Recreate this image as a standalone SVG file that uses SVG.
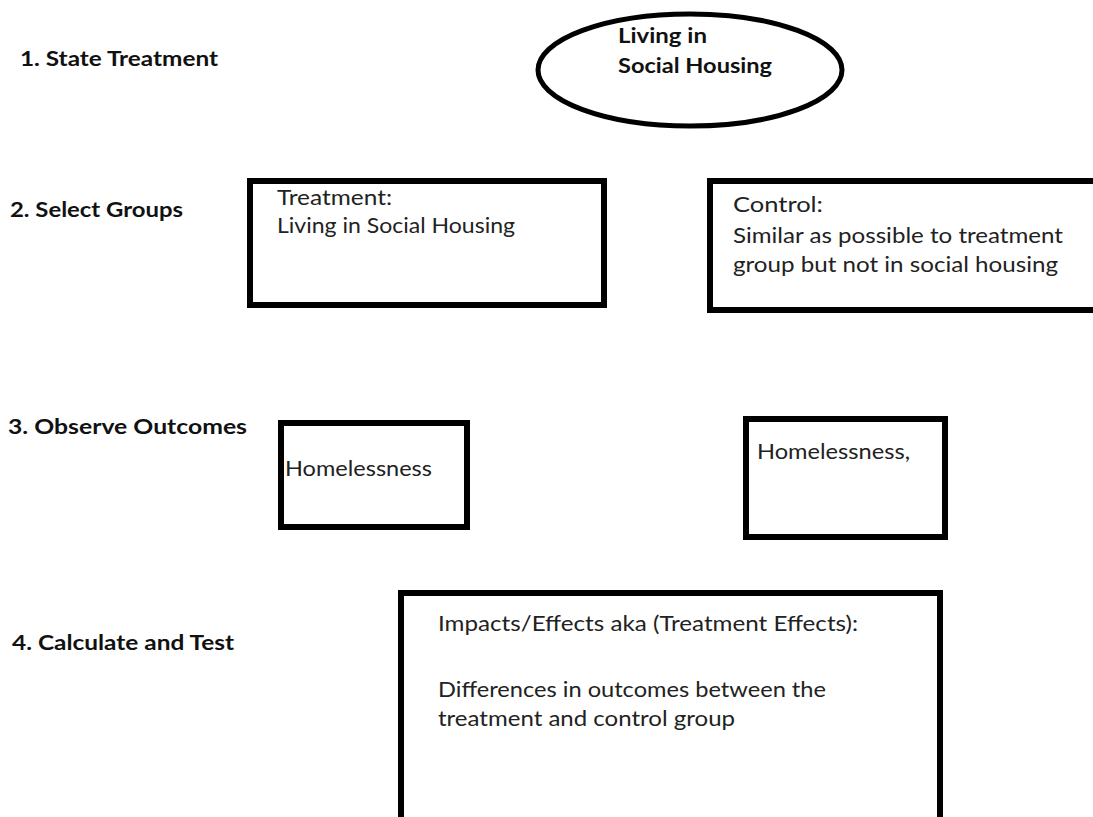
<svg xmlns="http://www.w3.org/2000/svg" width="1093" height="817" viewBox="0 0 1093 817">
<style>
.lbl{font-family:Lato,"Liberation Sans",sans-serif;font-weight:bold;font-size:20px;fill:#111}
.t{font-family:Lato,"Liberation Sans",sans-serif;font-size:21px;fill:#222}
.tb{font-family:Lato,"Liberation Sans",sans-serif;font-weight:bold;font-size:21px;fill:#111}
.box{fill:#fff;stroke:#000;stroke-width:6}
</style>
<rect width="1093" height="817" fill="#fff"/>
<g id="labels">
<text class="lbl" x="20" y="66" textLength="198" lengthAdjust="spacingAndGlyphs">1. State Treatment</text>
<text class="lbl" x="10" y="217" textLength="173" lengthAdjust="spacingAndGlyphs">2. Select Groups</text>
<text class="lbl" x="8" y="434" textLength="239" lengthAdjust="spacingAndGlyphs">3. Observe Outcomes</text>
<text class="lbl" x="12" y="650" textLength="222" lengthAdjust="spacingAndGlyphs">4. Calculate and Test</text>
</g>
<g id="treatment-ellipse">
<ellipse cx="690" cy="70" rx="152" ry="56" fill="#fff" stroke="#000" stroke-width="5"/>
<text class="tb" x="618" y="43" textLength="89" lengthAdjust="spacingAndGlyphs">Living in</text>
<text class="tb" x="618" y="73" textLength="154" lengthAdjust="spacingAndGlyphs">Social Housing</text>
</g>
<g id="treatment-group">
<rect class="box" x="250" y="181" width="354" height="124"/>
<text class="t" x="277" y="205" textLength="115" lengthAdjust="spacingAndGlyphs">Treatment:</text>
<text class="t" x="277" y="233" textLength="238" lengthAdjust="spacingAndGlyphs">Living in Social Housing</text>
</g>
<g id="control-group">
<rect class="box" x="710" y="181" width="400" height="129"/>
<text class="t" x="733" y="212" textLength="90" lengthAdjust="spacingAndGlyphs">Control:</text>
<text class="t" x="733" y="243" textLength="330" lengthAdjust="spacingAndGlyphs">Similar as possible to treatment</text>
<text class="t" x="733" y="272" textLength="325" lengthAdjust="spacingAndGlyphs">group but not in social housing</text>
</g>
<g id="outcome-treatment">
<rect class="box" x="281" y="423" width="186" height="104"/>
<text class="t" x="285" y="476" textLength="147" lengthAdjust="spacingAndGlyphs">Homelessness</text>
</g>
<g id="outcome-control">
<rect class="box" x="746" y="419" width="199" height="118"/>
<text class="t" x="757" y="459" textLength="153" lengthAdjust="spacingAndGlyphs">Homelessness,</text>
</g>
<g id="impacts">
<rect class="box" x="401" y="593" width="539" height="240"/>
<text class="t" x="438" y="631" textLength="420" lengthAdjust="spacingAndGlyphs">Impacts/Effects aka (Treatment Effects):</text>
<text class="t" x="438" y="697" textLength="388" lengthAdjust="spacingAndGlyphs">Differences in outcomes between the</text>
<text class="t" x="438" y="726" textLength="297" lengthAdjust="spacingAndGlyphs">treatment and control group</text>
</g>
<g id="connectors"></g>
</svg>
